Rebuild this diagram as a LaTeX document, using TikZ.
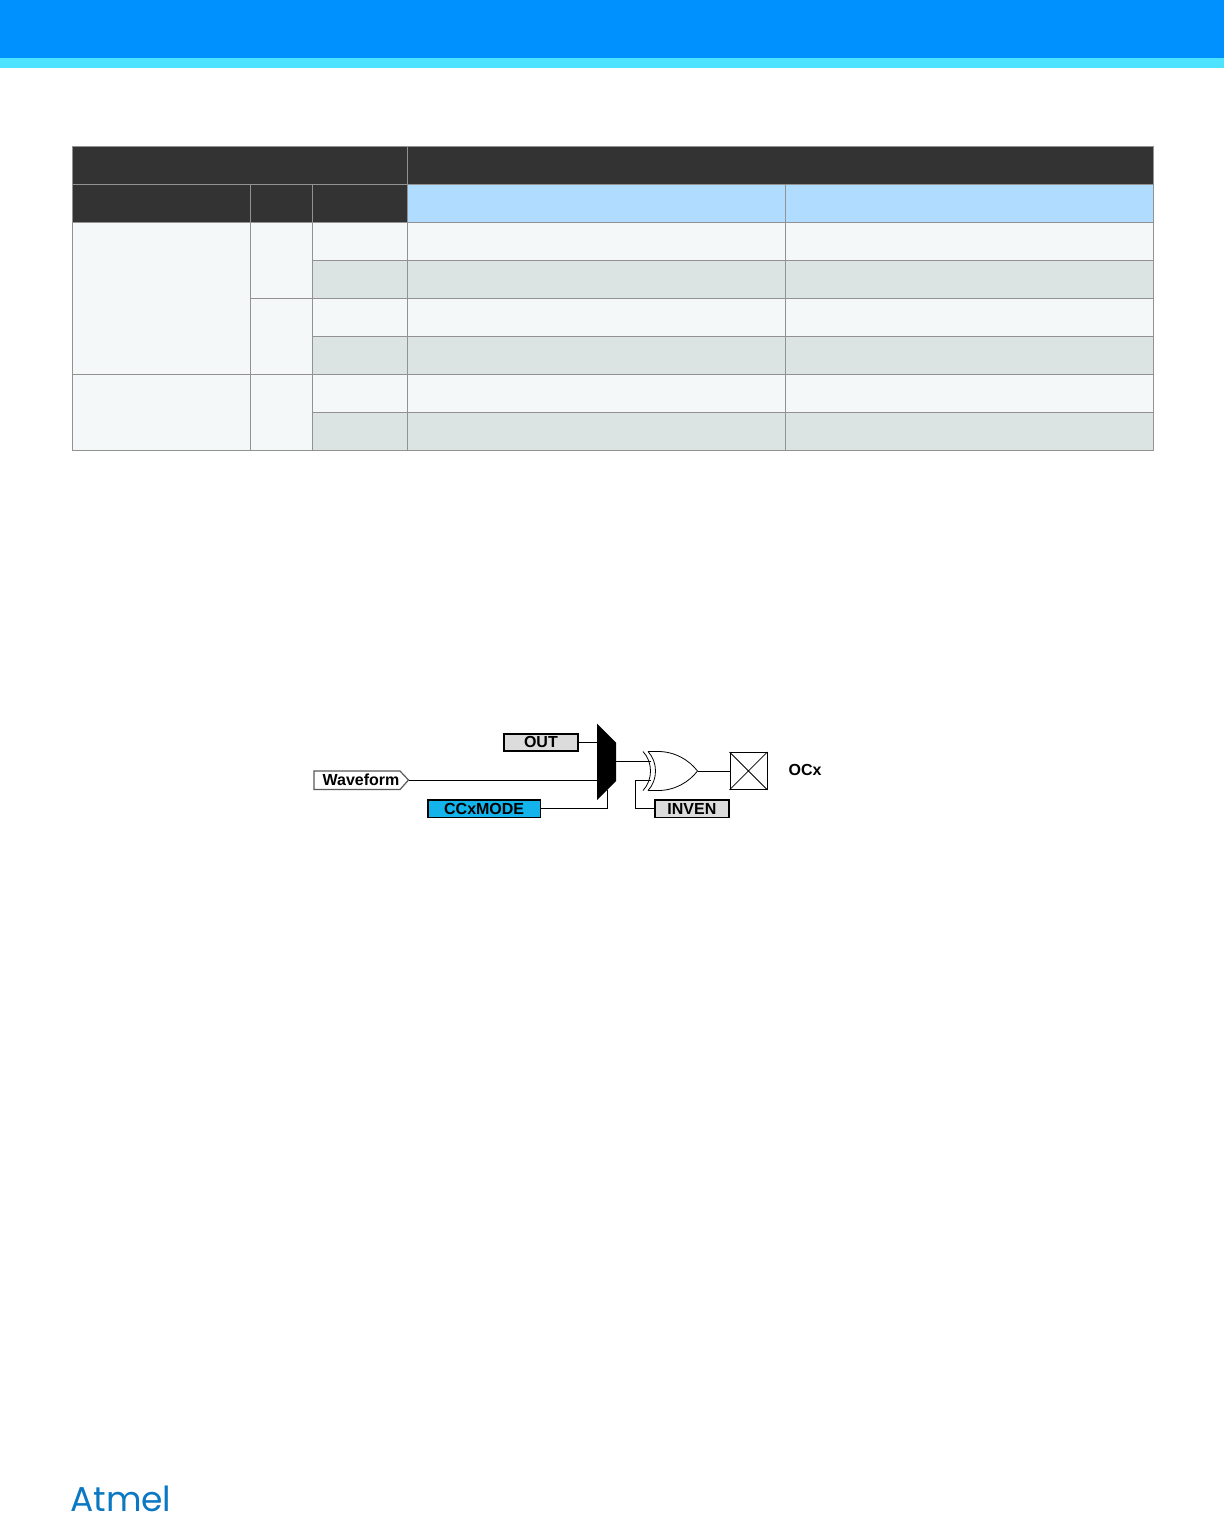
\documentclass[tikz,border=0pt]{standalone}
\usepackage{fontspec}
\setmainfont{Liberation Sans}
\newfontfamily\logofont{Poppins}
\definecolor{barblue}{HTML}{0091FF}
\definecolor{barcyan}{HTML}{4EE3FF}
\definecolor{headdark}{HTML}{333333}
\definecolor{headblue}{HTML}{B0DCFF}
\definecolor{rowlight}{HTML}{F5F8F9}
\definecolor{rowdark}{HTML}{DBE4E3}
\definecolor{gridgrey}{HTML}{929292}
\definecolor{boxgrey}{HTML}{DCDCDC}
\definecolor{modeblue}{HTML}{13B3EC}
\definecolor{logoblue}{HTML}{0A78C2}
\tikzset{
  cell/.style={draw=gridgrey,line width=.8pt},
  dark/.style={cell,fill=headdark},
  hblue/.style={cell,fill=headblue},
  light/.style={cell,fill=rowlight},
  shade/.style={cell,fill=rowdark},
  wire/.style={draw=black,line width=.9pt},
  label/.style={font=\fontsize{16}{16}\selectfont\bfseries,text=black,inner sep=0pt},
  reg/.style={draw=black,line width=1.8pt,anchor=north west,inner sep=0pt,font=\fontsize{16}{16}\selectfont\bfseries},
}
\begin{document}
\begin{tikzpicture}[x=1pt,y=-1pt]
\useasboundingbox (0,0) rectangle (1224,1513);
% top band
\fill[barblue] (0,0) rectangle (1224,58);
\fill[barcyan] (0,58) rectangle (1224,68);
% table
\path[dark] (72.5,146.5) rectangle (407.5,184.5);
\path[dark] (407.5,146.5) rectangle (1153.5,184.5);
\path[dark] (72.5,184.5) rectangle (250.5,222.5);
\path[dark] (250.5,184.5) rectangle (312.5,222.5);
\path[dark] (312.5,184.5) rectangle (407.5,222.5);
\path[hblue] (407.5,184.5) rectangle (785.5,222.5);
\path[hblue] (785.5,184.5) rectangle (1153.5,222.5);
\path[light] (72.5,222.5) rectangle (250.5,374.5);
\path[light] (72.5,374.5) rectangle (250.5,450.5);
\path[light] (250.5,222.5) rectangle (312.5,298.5);
\path[light] (250.5,298.5) rectangle (312.5,374.5);
\path[light] (250.5,374.5) rectangle (312.5,450.5);
\foreach \t/\b/\s in {222.5/260.5/light,260.5/298.5/shade,298.5/336.5/light,336.5/374.5/shade,374.5/412.5/light,412.5/450.5/shade}{
  \path[\s] (312.5,\t) rectangle (407.5,\b);
  \path[\s] (407.5,\t) rectangle (785.5,\b);
  \path[\s] (785.5,\t) rectangle (1153.5,\b);
}
% registers
\node[reg,fill=boxgrey,minimum width=74pt,minimum height=17pt] (out) at (503,732.8) {OUT};
\node[reg,fill=modeblue,minimum width=112.5pt,minimum height=17.5pt] (mode) at (427,799) {CCxMODE};
\node[reg,fill=boxgrey,minimum width=74.5pt,minimum height=17.5pt] (inven) at (653.7,799) {INVEN};
% waveform signal
\path[draw=black!65,line width=1.2pt,fill=white] (314,771) -- (400,771) -- (408.5,780) -- (400,789.5) -- (314,789.5) -- cycle;
\coordinate (wavetip) at (408.5,780);
\node[label,anchor=center] (wave) at (361,779.5) {Waveform};
% mux
\fill[black] (597,723.5) -- (616,742.5) -- (616,781) -- (597,800) -- cycle;
\coordinate (muxa) at (597,742);
\coordinate (muxb) at (597,780);
\coordinate (muxc) at (607,790);
\coordinate (muxo) at (616,761);
% xor gate
\coordinate (gatea) at (650.5,761);
\coordinate (gateb) at (651,780);
\coordinate (gatet) at (697.5,771);
\path[draw=black,line width=.8pt] (643,751.5) .. controls (653,762) and (653,780) .. (643,790.5);
\path[draw=black,line width=.8pt] (648,751.5) .. controls (658,762) and (658,780) .. (648,790.5);
\path[draw=black,line width=.8pt] (648,751.5) -- (658,751.5) .. controls (675,751.5) and (689,760) .. (697.5,771) .. controls (689,782) and (675,790.5) .. (658,790.5) -- (648,790.5);
% pad
\node[draw=black,line width=.8pt,minimum size=37pt,inner sep=0pt,anchor=north west] (pad) at (729.5,752) {};
\path[draw=black,line width=.8pt] (pad.north west) -- (pad.south east) (pad.south west) -- (pad.north east);
\node[label] (ocx) at (805,770) {OCx};
% connectors
\draw[wire] (out.east) -- (out.east -| muxa);
\draw[wire] (wavetip) -- (muxb);
\draw[wire] (mode.east) -| (muxc);
\draw[wire] (muxo) -- (gatea);
\draw[wire] (gatet) -- (gatet -| pad.west);
\draw[wire] (inven.west) -| (635,780) -- (gateb);
% logo
\node[anchor=base west,inner sep=0pt,text=logoblue,font=\logofont\fontsize{34.5}{34.5}\selectfont] (logo) at (70,1511) {Atmel};
\end{tikzpicture}
\end{document}
